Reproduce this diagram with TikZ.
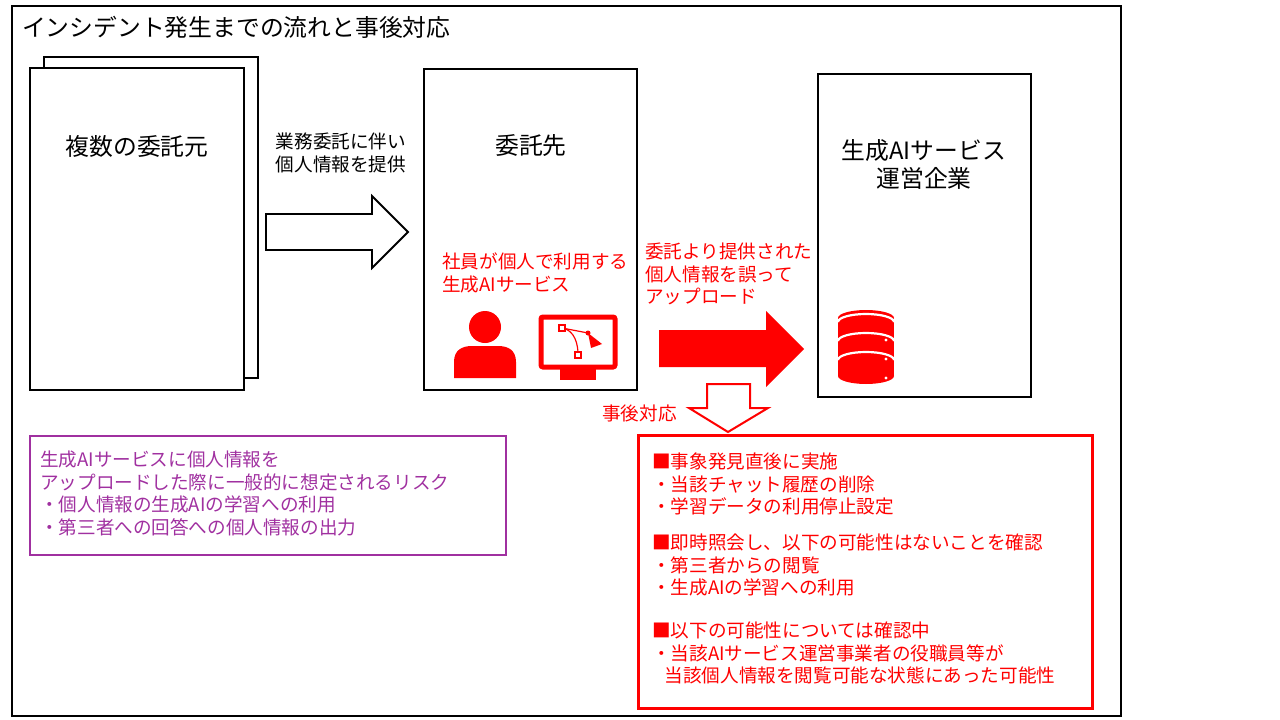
\documentclass[tikz,border=0pt]{standalone}
\usepackage{fontspec}
\setmainfont{Noto Sans CJK JP}
\begin{document}
\begin{tikzpicture}[x=1pt,y=-1pt,
  box/.style={draw=black,line width=1.8pt,fill=white},
  t/.style={font=\fontsize{18.6}{22.4}\selectfont,inner sep=0,align=left},
  rt/.style={t,text=red},
  pt/.style={t,text={rgb,255:red,160;green,48;blue,160}}]
\useasboundingbox (0,0) rectangle (1280,720);
\draw[line width=1.5pt] (12,6) rectangle (1121,716);
\node[t,anchor=west,font=\fontsize{23.8}{28}\selectfont] (title) at (22,27) {インシデント発生までの流れと事後対応};
\draw[box] (44,57) rectangle (258,378);
\draw[box] (30,68) rectangle (244,390);
\node[t,font=\fontsize{23.8}{28}\selectfont] (src) at (137,146) {複数の委託元};
\node[t,align=center] (lbl1) at (341,153) {業務委託に伴い\\個人情報を提供};
\draw[line width=1.8pt,fill=white] (266,214) -- (372,214) -- (372,196) -- (408,232) -- (372,268) -- (372,250) -- (266,250) -- cycle;
\draw[box] (424,69) rectangle (637,390);
\node[t,font=\fontsize{23.8}{28}\selectfont] (dst) at (531,146) {委託先};
\node[rt,anchor=west] (emp) at (442,273) {社員が個人で利用する\\生成AIサービス};
% person
\fill[red] (485,327) circle (16);
\fill[red] (454,378) -- (454,362) .. controls (454,350) and (462,346) .. (472,346) -- (498,346) .. controls (508,346) and (516,350) .. (516,362) -- (516,378) -- cycle;
% monitor
\draw[red,line width=5pt,rounded corners=2pt] (541,317) rectangle (615,367);
\fill[red] (560,367) rectangle (596,374);
\fill[red] (560,374) rectangle (596,380);
\draw[red,line width=1.2pt] (562,328) .. controls (575,330) and (578,345) .. (578,354);
\draw[red,line width=1.2pt] (562,328) -- (588,333);
\draw[red,line width=1.2pt,fill=white] (559,325) rectangle (565,331);
\draw[red,line width=1.2pt,fill=white] (575,352) rectangle (581,358);
\fill[red] (588,333) circle (2.5);
\fill[red] (588,333) -- (602,344) -- (591,348) -- cycle;
\draw[box] (818,74) rectangle (1031,397);
\node[t,align=center,font=\fontsize{23.8}{28}\selectfont] (ai) at (924,164) {生成AIサービス\\運営企業};
\node[rt,anchor=west] (up) at (645,274) {委託より提供された\\個人情報を誤って\\アップロード};
\fill[red] (659,330) -- (766,330) -- (766,311) -- (804,349) -- (766,387) -- (766,367) -- (659,367) -- cycle;
% database
\begin{scope}[red]
\fill (838,318) rectangle (894,376);
\fill (866,318) ellipse (28 and 8);
\fill (866,376) ellipse (28 and 8);
\draw[white,line width=2.2pt] (838,322) arc[start angle=180,end angle=360,x radius=28,y radius=8];
\draw[white,line width=2.2pt] (838,341) arc[start angle=180,end angle=360,x radius=28,y radius=8];
\draw[white,line width=2.2pt] (838,360) arc[start angle=180,end angle=360,x radius=28,y radius=8];
\fill[white] (886,340) circle (1.6) (886,359) circle (1.6) (886,378) circle (1.6);
\end{scope}
\draw[red,line width=2pt,fill=white] (707,384) -- (750,384) -- (750,408) -- (768,408) -- (728,432) -- (689,408) -- (707,408) -- cycle;
\node[rt,anchor=west] (post) at (602,413) {事後対応};
\draw[draw={rgb,255:red,160;green,48;blue,160},line width=1.5pt] (30,436) rectangle (506,555);
\node[pt,anchor=north west] (risk) at (40,451) {生成AIサービスに個人情報を\\アップロードした際に一般的に想定されるリスク\\・個人情報の生成AIの学習への利用\\・第三者への回答への個人情報の出力};
\draw[red,line width=3pt] (638,435) rectangle (1092,708);
\node[rt,anchor=north west] (r1) at (652,453) {■事象発見直後に実施\\・当該チャット履歴の削除\\・学習データの利用停止設定};
\node[rt,anchor=north west] (r2) at (652,534) {■即時照会し、以下の可能性はないことを確認\\・第三者からの閲覧\\・生成AIの学習への利用};
\node[rt,anchor=north west] (r3) at (652,622) {■以下の可能性については確認中\\・当該AIサービス運営事業者の役職員等が\\\ \ \ 当該個人情報を閲覧可能な状態にあった可能性};
\end{tikzpicture}
\end{document}
